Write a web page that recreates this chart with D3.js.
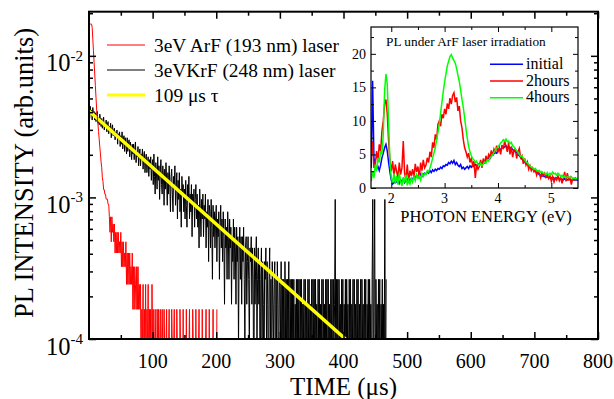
<!DOCTYPE html>
<html>
<head>
<meta charset="utf-8">
<script src="https://cdn.jsdelivr.net/npm/d3@7"></script>
<style>
  body { margin: 0; background: #fff; }
  svg { display: block; font-family: "Liberation Serif", "Times New Roman", serif; }
</style>
</head>
<body>
<svg id="chart" width="614" height="399"></svg>
<script>
// ---- PL decay, 1 us bins, photon counts ----
const binWidthUs = 1;
const krfStartUs = 0;
const krfCountUnit = 8.8e-5;   // arb. units per count
const krfCounts = [
  68, 41, 50, 44, 47, 40, 49, 43, 46, 40, 45, 39, 43, 46, 38, 42, 37, 44, 40, 36,
  41, 35, 39, 42, 34, 38, 36, 40, 33, 37, 39, 32, 36, 34, 38, 30, 35, 37, 31, 34,
  35, 29, 33, 31, 34, 27, 32, 30, 33, 26, 31, 27, 33, 25, 29, 31, 24, 30, 27, 23,
  30, 24, 27, 29, 22, 28, 25, 21, 27, 23, 27, 21, 25, 28, 20, 24, 22, 26, 19, 23,
  25, 19, 23, 21, 25, 18, 22, 24, 17, 21, 23, 17, 20, 22, 16, 21, 18, 22, 15, 19,
  21, 14, 23, 16, 12, 20, 17, 13, 22, 15, 19, 11, 17, 21, 14, 12, 19, 16, 10, 18,
  13, 20, 15, 10, 17, 12, 19, 14, 9, 16, 18, 12, 9, 16, 14, 19, 10, 13, 17, 8,
  15, 11, 17, 9, 13, 7, 16, 12, 14, 9, 13, 8, 15, 10, 7, 14, 11, 16, 8, 12,
  9, 14, 6, 12, 10, 13, 7, 11, 14, 8, 12, 7, 10, 5, 13, 9, 6, 11, 8, 12,
  6, 10, 8, 12, 5, 9, 7, 11, 4, 10, 9, 5, 11, 7, 3, 10, 6, 9, 5, 8,
  10, 4, 8, 6, 9, 3, 7, 10, 5, 8, 4, 9, 6, 2, 8, 5, 7, 3, 9, 6,
  3, 8, 5, 7, 2, 6, 4, 8, 3, 7, 5, 2, 7, 4, 6, 1, 5, 7, 3, 6,
  2, 6, 4, 7, 3, 1, 5, 6, 2, 4, 6, 3, 1, 5, 4, 6, 2, 5, 3, 0,
  5, 2, 4, 6, 1, 3, 5, 2, 4, 0, 3, 5, 1, 4, 2, 0, 4, 3, 5, 1,
  4, 2, 0, 3, 5, 1, 3, 0, 4, 2, 1, 3, 4, 0, 3, 1, 4, 2, 0, 3,
  3, 1, 4, 0, 3, 1, 3, 0, 4, 1, 3, 0, 3, 1, 4, 0, 3, 1, 3, 0,
  3, 1, 3, 0, 2, 1, 3, 0, 3, 1, 3, 0, 3, 1, 3, 0, 2, 1, 3, 0,
  3, 1, 2, 0, 3, 1, 3, 0, 2, 1, 3, 0, 3, 1, 3, 0, 3, 1, 2, 0,
  3, 1, 3, 0, 2, 1, 3, 0, 3, 1, 2, 0, 3, 1, 3, 0, 3, 1, 2, 0,
  3, 1, 3, 0, 3, 1, 2, 11, 0, 3, 1, 3, 0, 3, 1, 2, 0, 3, 1, 3,
  0, 2, 1, 3, 0, 3, 1, 2, 0, 3, 1, 3, 0, 2, 1, 3, 0, 3, 1, 2,
  0, 3, 1, 3, 0, 2, 1, 3, 0, 3, 1, 2, 0, 3, 1, 3, 0, 2, 1, 3,
  0, 3, 1, 2, 0, 3, 11, 0, 3, 11, 0, 3, 1, 2, 0, 3, 1, 3, 0, 2,
  1, 3, 0, 2, 1, 11, 0, 3
];
const arfStartUs = 1;
const arfCountUnit = 8.1e-5;
const arfCounts = [
  207, 207, 207, 207, 196, 162, 134, 111, 92, 76, 63, 52,
  46, 41, 36, 32, 28, 25, 22, 20, 17, 16, 14,
  14, 13, 13, 12, 12, 12, 11, 11,
  9, 7, 9, 6, 9, 7, 8, 6,
  8, 5, 7, 5, 7, 5, 7, 5, 6, 5, 7, 4,
  6, 4, 6, 4, 5, 4, 6, 3,
  5, 3, 5, 3, 5, 3, 4, 3, 5, 2,
  4, 2, 4, 3, 2, 4, 2, 4, 2, 3, 2,
  3, 0, 2, 1, 3, 0, 2, 1, 3, 0, 2, 1, 3, 0, 2, 1, 2, 0, 3, 1, 2, 0, 1, 2, 1, 0, 2, 1, 2, 0,
  1, 2, 0, 1, 2, 1, 0, 2, 1, 0, 1, 2, 0, 1, 1, 2, 0, 1, 0, 2, 1, 0, 1, 2, 0, 1, 0, 2, 1, 0,
  1, 0, 2, 1, 0, 1, 0, 2, 0, 1, 1, 0, 2, 0, 1, 0, 1, 2, 0, 1, 0, 0, 2, 1, 0, 1, 0, 2, 0, 1,
  0, 1, 2, 0, 0, 1, 0, 2, 0, 1, 0, 0, 1, 2, 0, 0, 1, 0, 2, 0, 0, 1, 0, 0, 2, 0, 1, 0, 0, 0, 2
];
// single exponential fit (tau = 109 us): end points of the straight line on the log axis
const fitTimesUs = [0, 403];
const fitValues = [4.08e-3, 1e-4];

const decayLabels = ["3eV ArF (193 nm) laser", "3eVKrF (248 nm) laser", "109 \u03bcs \u03c4"];
const timeTicks = [100, 200, 300, 400, 500, 600, 700, 800];
const timeMinorTicks = [50, 150, 250, 350, 450, 550, 650, 750];
const decadeTicks = [1e-4, 1e-3, 1e-2];
const decadeExponents = ["-4", "-3", "-2"];
const decadeMinorTicks = [2e-4, 3e-4, 4e-4, 5e-4, 6e-4, 7e-4, 8e-4, 9e-4,
  2e-3, 3e-3, 4e-3, 5e-3, 6e-3, 7e-3, 8e-3, 9e-3, 2e-2];

// ---- inset: PL spectra, 0.025 eV steps from 1.625 eV ----
const energyStartEv = 1.625;
const energyStepEv = 0.025;
const initialPL = [
  3.0, 16.0, 4.5, 3.5, 2.8, 3.2, 2.6, 3.4, 4.5, 5.2, 6.0, 6.5, 5.5, 3.8, 2.4, 1.2, 0.6, 0.8, 1.0,
  0.9, 1.3, 0.7, 1.2, 1.0, 1.4, 0.8, 1.1, 1.3, 0.9, 1.2, 1.4,
  1.3, 1.7, 1.5, 1.9, 1.6, 1.8, 2.1, 1.7, 2.0, 2.2,
  2.1, 2.4, 2.2, 2.6, 2.3, 2.7, 2.5, 2.8, 2.6, 2.9,
  2.8, 3.1, 2.9, 3.3, 3.2, 3.5, 3.4, 3.8, 3.6, 4.0,
  3.7, 4.1, 3.5, 3.8, 3.4, 3.2, 3.5, 2.9, 3.1, 2.8,
  3.0, 3.2, 2.9, 3.3, 3.1, 3.4, 3.2, 3.5, 3.3, 3.6,
  3.5, 3.8, 3.7, 4.0, 3.9, 4.2, 4.3, 4.5, 4.4, 4.8,
  4.9, 5.1, 5.3, 5.2, 5.6, 5.8, 5.7, 6.0, 6.2, 6.1,
  6.3, 6.0, 6.2, 5.9, 6.0, 5.7, 5.6, 5.4, 5.3, 5.0,
  4.8, 4.6, 4.3, 4.2, 3.9, 3.7, 3.5, 3.4, 3.1, 3.0,
  2.8, 2.7, 2.5, 2.3, 2.2, 2.0, 1.9, 1.8, 1.8, 1.7,
  1.6, 1.7, 1.5, 1.6, 1.5, 1.6, 1.4, 1.5, 1.5, 1.4,
  1.4, 1.3, 1.3, 1.2, 1.4, 1.3, 1.2, 1.3, 1.2, 1.1, 1.3, 1.2, 1.2, 1.2, 1.2
];
const twoHoursPL = [
  4.5, 7.0, 3.0, 3.5, 5.5, 4.0, 6.5, 5.5, 8.5, 10.0, 12.5, 13.2, 11.0, 7.0, 4.0, 2.5, 4.0, 1.8, 3.5,
  2.5, 1.5, 3.8, 2.0, 3.0, 7.0, 2.2, 1.2, 3.5, 1.0, 2.6, 1.8,
  2.8, 1.6, 3.6, 2.4, 3.2, 1.4, 3.8, 2.6, 4.2, 3.0,
  3.4, 4.5, 3.8, 5.4, 4.6, 6.8, 6.0, 8.0, 7.2, 9.5,
  10.0, 9.2, 11.0, 10.4, 11.8, 11.0, 12.6, 11.8, 13.4, 12.5,
  13.8, 14.2, 12.8, 13.5, 11.5, 12.2, 10.0, 9.0, 7.2, 6.0,
  5.4, 4.6, 5.2, 3.8, 4.4, 3.4, 4.0, 1.5, 3.5, 2.8,
  3.2, 4.2, 3.0, 4.4, 3.6, 4.8, 4.0, 5.0, 4.6, 5.6,
  4.8, 5.8, 5.2, 6.3, 5.4, 6.0, 5.0, 6.4, 5.8, 7.0,
  6.2, 5.4, 6.8, 5.0, 6.2, 4.6, 5.6, 5.8, 4.4, 5.4,
  5.9, 4.5, 4.8, 3.6, 4.4, 3.4, 3.9, 2.8, 3.3, 2.6,
  3.0, 2.4, 2.7, 1.9, 2.5, 2.2, 1.5, 2.3, 1.8, 2.2,
  1.6, 2.0, 1.4, 1.8, 1.0, 1.7, 0.9, 1.5, 1.2, 1.8,
  1.1, 1.6, 0.7, 1.4, 2.4, 1.0, 2.2, 1.3, 1.6, 0.5, 1.4, 1.2, 1.5, 1.3, 1.4
];
const fourHoursPL = [
  1.0, 2.5, 1.5, 3.5, 2.5, 4.5, 3.8, 5.5, 5.0, 8.0, 14.5, 17.0, 15.5, 9.5, 4.0, 1.5, 0.8, 2.2, 0.6,
  1.8, 0.5, 2.3, 1.0, 0.3, 1.6, 0.8, 2.0, 0.4, 1.2, 0.6, 1.5,
  0.9, 1.7, 1.1, 2.0, 1.4, 1.8, 1.2, 2.2, 1.7, 2.1,
  2.0, 2.6, 2.4, 3.0, 3.6, 4.5, 5.2, 6.0, 7.2, 8.3,
  9.5, 11.2, 12.8, 14.4, 15.8, 17.0, 18.2, 18.9, 19.6, 19.9,
  19.4, 19.0, 18.6, 17.8, 16.8, 15.9, 14.6, 13.2, 12.0, 10.5,
  8.8, 7.4, 6.2, 5.4, 4.8, 4.4, 4.2, 3.8, 4.0, 3.5,
  3.4, 3.7, 3.3, 3.6, 3.9, 3.7, 4.2, 4.0, 4.5, 4.7,
  4.9, 5.3, 5.6, 5.9, 6.2, 6.4, 6.7, 6.9, 7.2, 7.0,
  7.3, 6.9, 7.0, 6.6, 6.8, 6.3, 6.1, 5.8, 5.6, 5.3,
  5.0, 4.7, 4.8, 4.4, 4.2, 3.9, 3.8, 3.5, 3.3, 3.1,
  3.0, 2.8, 2.9, 2.6, 2.5, 2.6, 2.3, 2.4, 2.2, 2.2,
  2.0, 2.3, 1.9, 2.2, 2.0, 2.4, 2.1, 2.2, 1.9, 2.2,
  2.0, 1.7, 1.9, 1.6, 1.8, 1.5, 1.7, 1.6, 1.5, 1.7, 1.4, 1.5, 1.4, 1.4, 1.4
];
const spectrumLabels = ["initial", "2hours", "4hours"];
const energyTicks = [2, 3, 4, 5];
const energyMinorTicks = [2.5, 3.5, 4.5];
const plTicks = [0, 5, 10, 15, 20];
const plMinorTicks = [2.5, 7.5, 12.5, 17.5, 22.5];

// ---------------------------------------------------------------
const svg = d3.select("#chart");
const main = { left: 89, right: 598, top: 11.7, bottom: 339 };
const x = d3.scaleLinear().domain([0, 800]).range([main.left, main.right]);
const y = d3.scaleLog().domain([1e-4, 0.0205]).range([main.bottom, main.top]);

const defs = svg.append("defs");
defs.append("clipPath").attr("id", "clip-main").append("rect")
  .attr("x", main.left).attr("y", main.top)
  .attr("width", main.right - main.left).attr("height", main.bottom - main.top);

const toSeries = (counts, start, unit) =>
  counts.map((c, i) => ({ t: start + i * binWidthUs, v: c * unit }));
const krf = toSeries(krfCounts, krfStartUs, krfCountUnit);
const arf = toSeries(arfCounts, arfStartUs, arfCountUnit);
const fit = fitTimesUs.map((t, i) => ({ t: t, v: fitValues[i] }));

// zero counts fall below the axis and get clipped
const decayLine = d3.line().x(d => x(d.t)).y(d => y(Math.max(d.v, 2e-5)));

const plot = svg.append("g").attr("clip-path", "url(#clip-main)");
plot.append("path").datum(krf).attr("d", decayLine)
  .attr("fill", "none").attr("stroke", "#000").attr("stroke-width", 1);
plot.append("path").datum(fit).attr("d", decayLine)
  .attr("fill", "none").attr("stroke", "#ffff00").attr("stroke-width", 3.5);
plot.append("path").datum(arf).attr("d", decayLine)
  .attr("fill", "none").attr("stroke", "#ff0000").attr("stroke-width", 1);

function tickGroup(axis, tx, ty, size, width) {
  const g = svg.append("g").attr("transform", "translate(" + tx + "," + ty + ")")
    .call(axis.tickSize(size).tickFormat(""));
  g.select(".domain").remove();
  g.selectAll("line").attr("stroke", "#000").attr("stroke-width", width);
  return g;
}

// main axes, ticks inward on all four sides
tickGroup(d3.axisBottom(x).tickValues(timeTicks), 0, main.bottom, -7, 1.5);
tickGroup(d3.axisBottom(x).tickValues(timeMinorTicks), 0, main.bottom, -4, 1.5);
tickGroup(d3.axisTop(x).tickValues(timeTicks), 0, main.top, -7, 1.5);
tickGroup(d3.axisTop(x).tickValues(timeMinorTicks), 0, main.top, -4, 1.5);
tickGroup(d3.axisLeft(y).tickValues(decadeTicks), main.left, 0, -7, 1.5);
tickGroup(d3.axisLeft(y).tickValues(decadeMinorTicks), main.left, 0, -4, 1.5);
tickGroup(d3.axisRight(y).tickValues(decadeTicks), main.right, 0, -7, 1.5);
tickGroup(d3.axisRight(y).tickValues(decadeMinorTicks), main.right, 0, -4, 1.5);

svg.append("rect")
  .attr("x", main.left).attr("y", main.top)
  .attr("width", main.right - main.left).attr("height", main.bottom - main.top)
  .attr("fill", "none").attr("stroke", "#000").attr("stroke-width", 2);

svg.append("g").selectAll("text").data(timeTicks).join("text")
  .attr("x", d => x(d)).attr("y", main.bottom + 29)
  .attr("text-anchor", "middle").attr("font-size", 20)
  .text(d => d);

const decadeLabels = svg.append("g").selectAll("text").data(decadeTicks).join("text")
  .attr("x", main.left - 6).attr("y", d => y(d) + 15.5)
  .attr("text-anchor", "end");
decadeLabels.append("tspan").attr("font-size", 24.5).text("10");
decadeLabels.append("tspan").attr("font-size", 15).attr("dy", -10.5)
  .text((d, i) => decadeExponents[i]);

svg.append("text")
  .attr("transform", "translate(33,173) rotate(-90)")
  .attr("text-anchor", "middle").attr("font-size", 26.5)
  .text("PL INTENSITY (arb.units)");
svg.append("text")
  .attr("x", (main.left + main.right) / 2).attr("y", 395)
  .attr("text-anchor", "middle").attr("font-size", 25)
  .text("TIME (\u03bcs)");

// main legend
const decayStyles = [
  { color: "#ff0000", width: 1 },
  { color: "#000000", width: 1 },
  { color: "#ffff00", width: 3 }
];
const legend = svg.append("g").selectAll("g").data(decayLabels).join("g")
  .attr("transform", (d, i) => "translate(107," + (45 + i * 25) + ")");
legend.append("line").attr("x1", 0).attr("x2", 38)
  .attr("stroke", (d, i) => decayStyles[i].color)
  .attr("stroke-width", (d, i) => decayStyles[i].width);
legend.append("text").attr("x", 47).attr("y", 6.5).attr("font-size", 19.4).text(d => d);

// ---------------- inset ----------------
const inset = { left: 371, right: 578, top: 27, bottom: 188 };
const ex = d3.scaleLinear().domain([1.62, 5.5]).range([inset.left, inset.right]);
const ey = d3.scaleLinear().domain([0, 24]).range([inset.bottom, inset.top]);

svg.append("rect")
  .attr("x", inset.left).attr("y", inset.top)
  .attr("width", inset.right - inset.left).attr("height", inset.bottom - inset.top)
  .attr("fill", "#fff");
defs.append("clipPath").attr("id", "clip-inset").append("rect")
  .attr("x", inset.left).attr("y", inset.top)
  .attr("width", inset.right - inset.left).attr("height", inset.bottom - inset.top);

const spectra = [initialPL, twoHoursPL, fourHoursPL];
const spectrumColors = ["#0000ff", "#ff0000", "#00ff00"];
const spectrumLine = d3.line()
  .x((d, i) => ex(energyStartEv + i * energyStepEv))
  .y(d => ey(d));
svg.append("g").attr("clip-path", "url(#clip-inset)")
  .selectAll("path").data(spectra).join("path")
  .attr("d", spectrumLine)
  .attr("fill", "none")
  .attr("stroke", (d, i) => spectrumColors[i])
  .attr("stroke-width", 1.5);

tickGroup(d3.axisBottom(ex).tickValues(energyTicks), 0, inset.bottom, -5, 1);
tickGroup(d3.axisBottom(ex).tickValues(energyMinorTicks), 0, inset.bottom, -3, 1);
tickGroup(d3.axisTop(ex).tickValues(energyTicks), 0, inset.top, -5, 1);
tickGroup(d3.axisTop(ex).tickValues(energyMinorTicks), 0, inset.top, -3, 1);
tickGroup(d3.axisLeft(ey).tickValues(plTicks), inset.left, 0, -5, 1);
tickGroup(d3.axisLeft(ey).tickValues(plMinorTicks), inset.left, 0, -3, 1);
tickGroup(d3.axisRight(ey).tickValues(plTicks), inset.right, 0, -5, 1);
tickGroup(d3.axisRight(ey).tickValues(plMinorTicks), inset.right, 0, -3, 1);

svg.append("rect")
  .attr("x", inset.left).attr("y", inset.top)
  .attr("width", inset.right - inset.left).attr("height", inset.bottom - inset.top)
  .attr("fill", "none").attr("stroke", "#000").attr("stroke-width", 1.2);

svg.append("g").selectAll("text").data(plTicks).join("text")
  .attr("x", inset.left - 5).attr("y", d => ey(d)).attr("dy", "0.35em")
  .attr("text-anchor", "end").attr("font-size", 14)
  .text(d => d);
svg.append("g").selectAll("text").data(energyTicks).join("text")
  .attr("x", d => ex(d)).attr("y", inset.bottom + 15)
  .attr("text-anchor", "middle").attr("font-size", 14)
  .text(d => d);

svg.append("text").attr("x", 386).attr("y", 45.7).attr("font-size", 13.3)
  .text("PL under ArF laser irradiation");
svg.append("text").attr("x", 486).attr("y", 222)
  .attr("text-anchor", "middle").attr("font-size", 16.5)
  .text("PHOTON ENERGY (eV)");

const insetLegend = svg.append("g").selectAll("g").data(spectrumLabels).join("g")
  .attr("transform", (d, i) => "translate(490," + (64.3 + i * 16.7) + ")");
insetLegend.append("line").attr("x1", 0).attr("x2", 33)
  .attr("stroke", (d, i) => spectrumColors[i]).attr("stroke-width", 1.5);
insetLegend.append("text").attr("x", 36).attr("y", 4.5).attr("font-size", 16).text(d => d);
</script>
</body>
</html>
